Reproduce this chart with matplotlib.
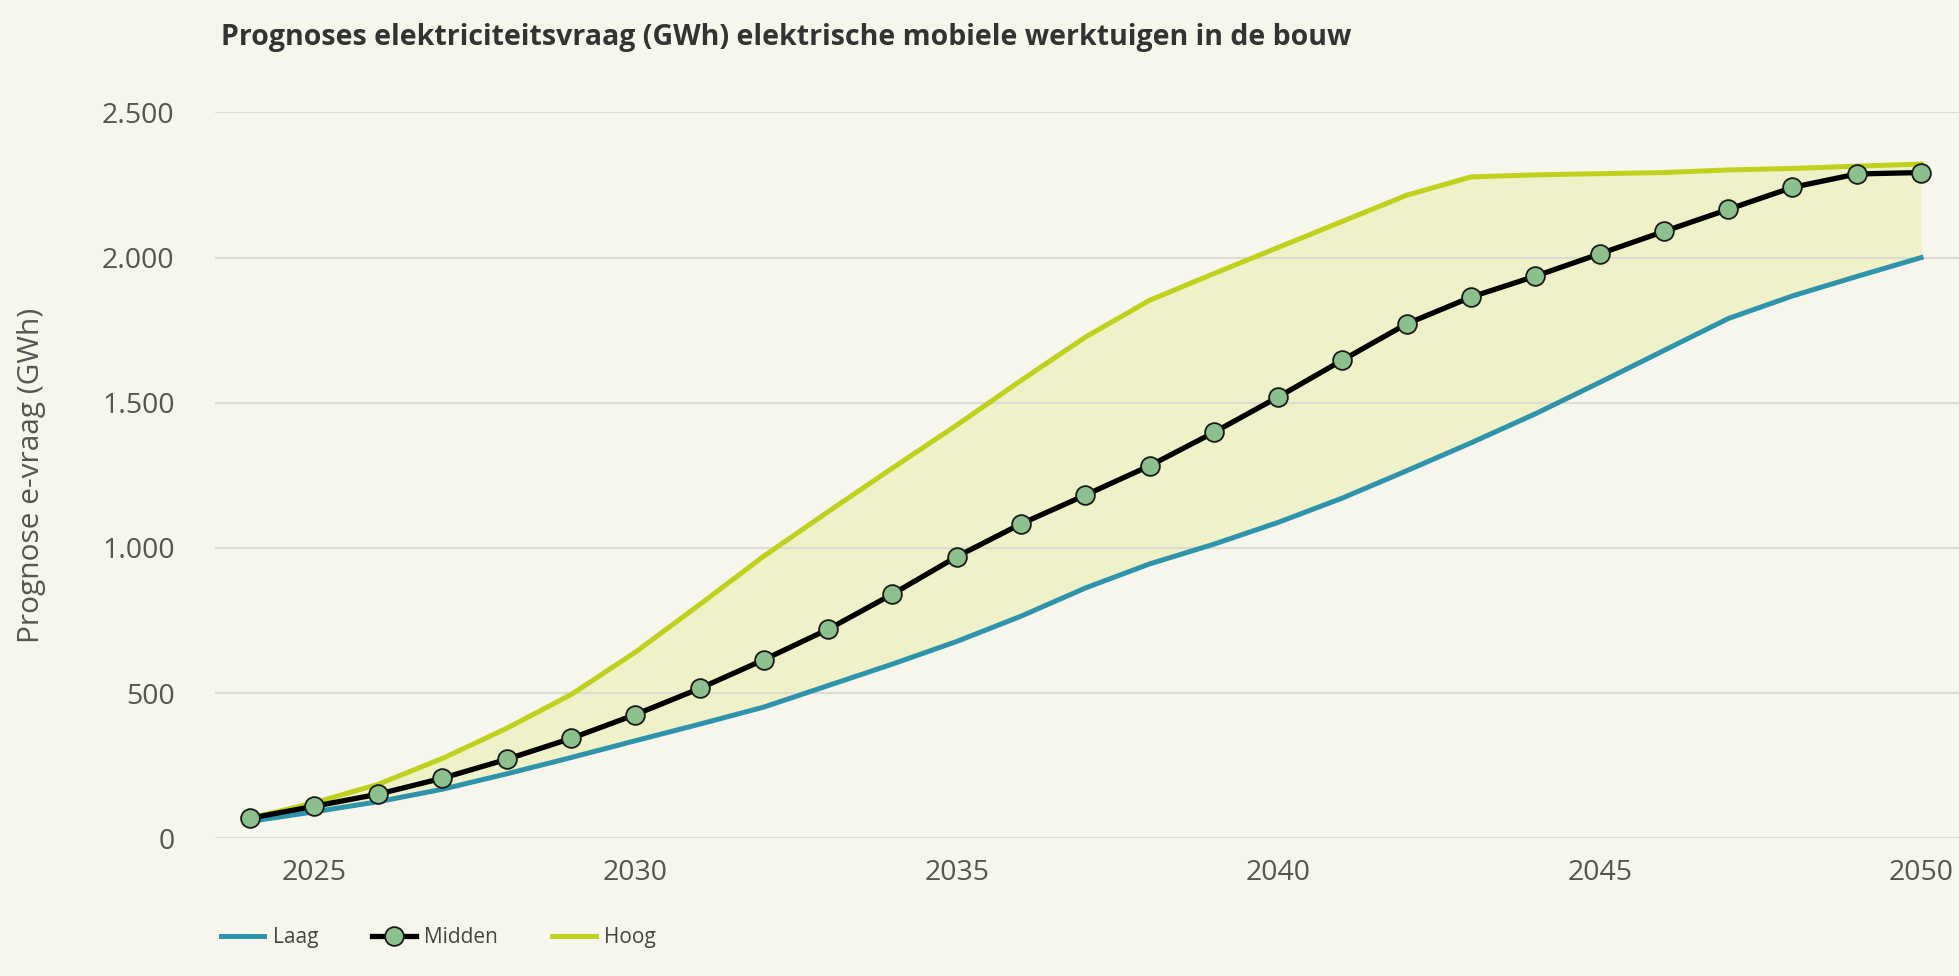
import matplotlib.pyplot as plt
import numpy as np
from matplotlib.ticker import FuncFormatter

plt.rcParams['font.family'] = ['Open Sans', 'DejaVu Sans']

# data (GWh)
jaren = list(range(2024, 2051))
laag = [58, 91, 126, 169, 222, 278, 336, 393, 452, 526, 600, 678, 765, 862, 945, 1013,
        1088, 1172, 1266, 1362, 1462, 1570, 1680, 1790, 1868, 1935, 2000]
midden = [69, 110, 152, 207, 272, 344, 426, 516, 615, 720, 841, 970, 1083, 1182, 1283, 1398,
          1520, 1647, 1772, 1864, 1936, 2013, 2090, 2166, 2242, 2288, 2293]
hoog = [69, 122, 186, 275, 379, 495, 641, 805, 972, 1125, 1275, 1423, 1577, 1726, 1853, 1945,
        2035, 2125, 2215, 2278, 2285, 2289, 2293, 2302, 2307, 2315, 2322]

bg = '#f6f6ec'
fig = plt.figure(figsize=(19.59, 9.76), dpi=100, facecolor=bg)
ax = fig.add_axes([0.1097, 0.1411, 0.8903, 0.7437], facecolor=bg)

ax.fill_between(jaren, laag, hoog, color='#eff2c8', zorder=1, linewidth=0)
ax.plot(jaren, laag, color='#2f93ab', linewidth=3.6, zorder=3, label='Laag')
ax.plot(jaren, hoog, color='#bfd11c', linewidth=3.6, zorder=3, label='Hoog')
ax.plot(jaren, midden, color='black', linewidth=3.8, marker='o', markersize=13.5,
        markerfacecolor='#8cc08c', markeredgecolor='#1a1a1a', markeredgewidth=1.3,
        zorder=4, label='Midden')

ax.set_xlim(2023.46, 2050.59)
ax.set_ylim(0, 2500)
ax.set_yticks([0, 500, 1000, 1500, 2000, 2500])
ax.set_xticks([2025, 2030, 2035, 2040, 2045, 2050])
ax.yaxis.set_major_formatter(FuncFormatter(lambda v, p: f'{int(v):,}'.replace(',', '.')))
ax.grid(axis='y', color='#dcdcd3', linewidth=1.5, zorder=0)
for s in ax.spines.values():
    s.set_visible(False)
ax.tick_params(length=0, labelsize=20.5, colors='#555555')
ax.tick_params(axis='y', pad=29)
ax.tick_params(axis='x', pad=15)

ax.set_ylabel('Prognose e-vraag (GWh)', fontsize=21.5, color='#555555')
ax.yaxis.set_label_coords(-0.097, 0.5)

fig.text(0.113, 0.962, 'Prognoses elektriciteitsvraag (GWh) elektrische mobiele werktuigen in de bouw',
         fontsize=20.5, fontweight='bold', color='#333333', va='center')

h, l = ax.get_legend_handles_labels()
order = [0, 2, 1]
fig.legend([h[i] for i in order], [l[i] for i in order], loc='center left',
           bbox_to_anchor=(0.103, 0.039), ncol=3, frameon=False, fontsize=15,
           handlelength=2.1, handletextpad=0.4, columnspacing=2.6, labelcolor='#444444')

plt.savefig('out.png', facecolor=bg)
